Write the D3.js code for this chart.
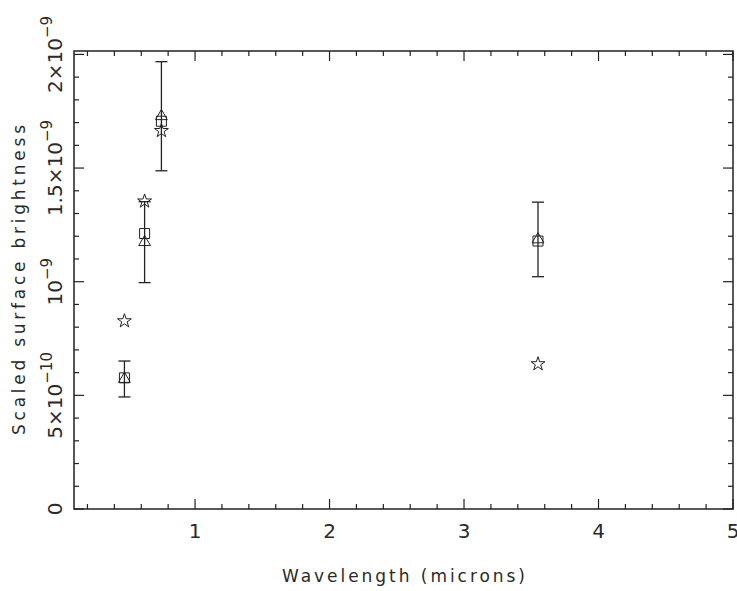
<!DOCTYPE html>
<html>
<head>
<meta charset="utf-8">
<script src="https://cdn.jsdelivr.net/npm/d3@7"></script>
<style>
  body { margin: 0; background: #fff; }
  text { font-family: "DejaVu Sans", sans-serif; fill: #2a2a2a; }
</style>
</head>
<body>
<svg width="737" height="591"></svg>
<script>
// wavelengths (microns) and the three measured series
let wavelengths = [0.475, 0.625, 0.75, 3.55];
let triangles = [5.72e-10, 11.74e-10, 17.28e-10, 11.86e-10];
let squares = [5.77e-10, 12.12e-10, 17.06e-10, 11.79e-10];
let stars = [8.27e-10, 13.54e-10, 16.64e-10, 6.38e-10];
let errors = [0.79e-10, 1.78e-10, 2.40e-10, 1.64e-10];

let xTicks = [1, 2, 3, 4, 5];
let yTicks = [0, 5e-10, 1e-9, 1.5e-9, 2e-9];
let yTickText = ['0', '5\u00d710', '10', '1.5\u00d710', '2\u00d710'];
let yTickExp = ['', '\u221210', '\u22129', '\u22129', '\u22129'];

const pLeft = 74, pRight = 733, pTop = 51, pBottom = 509;
const ink = '#222';

let x = d3.scaleLinear().domain([0.1, 5]).range([pLeft, pRight]);
let y = d3.scaleLinear().domain([0, 2.015e-9]).range([pBottom, pTop]);

let svg = d3.select('svg');

// frame
svg.append('rect')
    .attr('x', pLeft).attr('y', pTop)
    .attr('width', pRight - pLeft).attr('height', pBottom - pTop)
    .attr('fill', 'none').attr('stroke', ink).attr('stroke-width', 1.5);

// ticks on all four sides, pointing inwards
let xMinor = d3.range(0.2, 5.0001, 0.2).filter(v => Math.abs(v - Math.round(v)) > 1e-6);
let yMinor = d3.range(1e-10, 2.01e-9, 1e-10).filter((v, i) => (i + 1) % 5 != 0);

let ticks = svg.append('g').attr('stroke', ink).attr('stroke-width', 1.2);

function xTick(v, len) {
    ticks.append('line').attr('x1', x(v)).attr('x2', x(v)).attr('y1', pBottom).attr('y2', pBottom - len);
    ticks.append('line').attr('x1', x(v)).attr('x2', x(v)).attr('y1', pTop).attr('y2', pTop + len);
}
function yTick(v, len) {
    ticks.append('line').attr('y1', y(v)).attr('y2', y(v)).attr('x1', pLeft).attr('x2', pLeft + len);
    ticks.append('line').attr('y1', y(v)).attr('y2', y(v)).attr('x1', pRight).attr('x2', pRight - len);
}
xMinor.forEach(v => xTick(v, 5));
xTicks.forEach(v => xTick(v, 10));
yMinor.forEach(v => yTick(v, 5));
yTicks.forEach(v => yTick(v, 10));

// x tick labels (the last one runs off the page edge, as in the original)
svg.append('g').selectAll('text')
    .data(xTicks)
    .enter().append('text')
    .attr('x', d => x(d))
    .attr('y', 538)
    .attr('text-anchor', 'middle')
    .style('font-size', '20px')
    .text(d => d);

// y tick labels, rotated
let yl = svg.append('g').selectAll('text')
    .data(yTicks)
    .enter().append('text')
    .attr('transform', d => `translate(62,${y(d)}) rotate(-90)`)
    .attr('text-anchor', 'middle')
    .style('font-size', '20px');
yl.append('tspan').text((d, i) => yTickText[i]);
yl.append('tspan')
    .attr('dy', -10)
    .style('font-size', '15px')
    .text((d, i) => yTickExp[i]);

// axis titles
svg.append('text')
    .attr('x', (pLeft + pRight) / 2).attr('y', 582)
    .attr('text-anchor', 'middle')
    .attr('textLength', 243).attr('lengthAdjust', 'spacing')
    .style('font-size', '17px')
    .text('Wavelength (microns)');

svg.append('text')
    .attr('transform', `translate(25,${(pTop + pBottom) / 2}) rotate(-90)`)
    .attr('text-anchor', 'middle')
    .attr('textLength', 310).attr('lengthAdjust', 'spacing')
    .style('font-size', '17px')
    .text('Scaled surface brightness');

// error bars (around the triangle series)
let eb = svg.append('g').attr('stroke', ink).attr('stroke-width', 1.3);
wavelengths.forEach((w, i) => {
    let lo = triangles[i] - errors[i], hi = triangles[i] + errors[i];
    eb.append('line').attr('x1', x(w)).attr('x2', x(w)).attr('y1', y(lo)).attr('y2', y(hi));
    [lo, hi].forEach(v => eb.append('line')
        .attr('x1', x(w) - 6).attr('x2', x(w) + 6)
        .attr('y1', y(v)).attr('y2', y(v)));
});

// markers
function drawSeries(values, type, size) {
    svg.append('g').selectAll('path')
        .data(values)
        .enter().append('path')
        .attr('transform', (d, i) => `translate(${x(wavelengths[i])},${y(d)})`)
        .attr('d', d3.symbol().type(type).size(size))
        .attr('fill', 'none')
        .attr('stroke', ink)
        .attr('stroke-width', 1);
}
drawSeries(squares, d3.symbolSquare, 100);
drawSeries(triangles, d3.symbolTriangle, 60);
drawSeries(stars, d3.symbolStar, 60);
</script>
</body>
</html>
